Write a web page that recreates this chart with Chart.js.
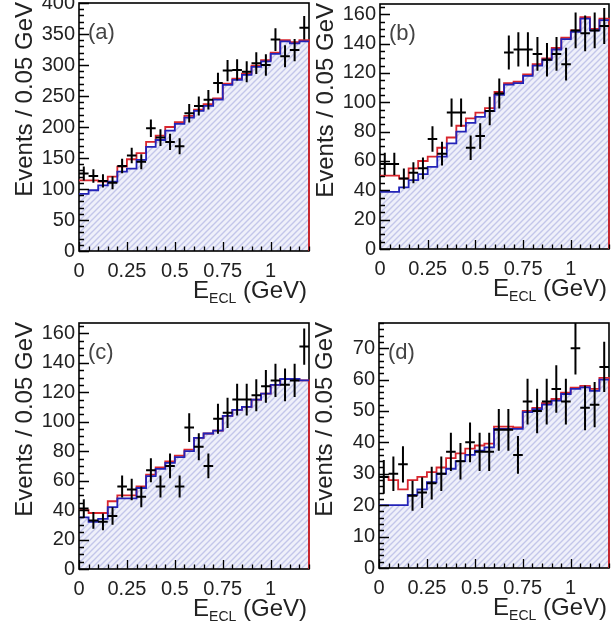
<!DOCTYPE html>
<html>
<head>
<meta charset="utf-8">
<script src="https://cdn.jsdelivr.net/npm/chart.js@4.4.1/dist/chart.umd.min.js"></script>
<style>
html, body { margin: 0; padding: 0; background: #fff; }
body { width: 611px; height: 631px; position: relative; overflow: hidden; }
canvas { position: absolute; }
</style>
</head>
<body>
<canvas id="pa" width="311" height="310" style="left:0;top:0"></canvas>
<canvas id="pb" width="306" height="310" style="left:305px;top:0"></canvas>
<canvas id="pc" width="311" height="319" style="left:0;top:312px"></canvas>
<canvas id="pd" width="306" height="319" style="left:305px;top:312px"></canvas>
<script>
// bins of 0.05 GeV, lower edges
const binEdges = [0, 0.05, 0.1, 0.15, 0.2, 0.25, 0.3, 0.35, 0.4, 0.45, 0.5, 0.55,
	0.6, 0.65, 0.7, 0.75, 0.8, 0.85, 0.9, 0.95, 1, 1.05, 1.1, 1.15];
const binWidth = 0.05;
const xMax = 1.2;

const xTickValues = [0, 0.25, 0.5, 0.75, 1];
const xTickLabels = ["0", "0.25", "0.5", "0.75", "1"];

// (a)
const dataA = [125, 121, 113, 110, 137, 154, 144, 198, 183, 176, 169, 222, 234, 244, 271, 291, 292, 289, 303, 300, 341, 314, 324, 360];
const bkgA = [92, 98, 106, 112, 128, 133, 147, 168, 179, 194, 205, 215, 226, 234, 244, 268, 276, 284, 297, 306, 318, 338, 335, 338];
const totA = [114, 114, 112, 120, 136, 148, 158, 176, 186, 200, 208, 218, 228, 237, 246, 270, 278, 286, 299, 308, 320, 340, 337, 340];
const yTicksA = [0, 50, 100, 150, 200, 250, 300, 350, 400];

// (b)
const dataB = [58, 58, 48, 52, 55, 75, 65, 93, 93, 69, 77, 94, 106, 134, 136, 136, 133, 129, 133, 126, 149, 147, 149, 152];
const bkgB = [39, 39, 42, 47, 51, 56, 63, 72, 80, 86, 90, 94, 105, 112, 113, 118, 125, 129, 136, 143, 148, 157, 149, 156];
const totB = [50, 50, 48, 55, 60, 63, 69, 76, 84, 89, 93, 96, 107, 113, 114, 119, 126, 130, 137, 144, 149, 158, 150, 157];
const yTicksB = [0, 20, 40, 60, 80, 100, 120, 140, 160];

// (c)
const dataC = [41, 33, 32, 36, 56, 54, 49, 67, 56, 70, 56, 96, 83, 70, 102, 106, 115, 115, 118, 124, 128, 125, 128, 151];
const bkgC = [35, 32, 34, 42, 48, 48, 55, 63, 68, 72, 76, 80, 89, 92, 94, 104, 108, 110, 115, 119, 125, 129, 129, 128];
const totC = [40, 38, 38, 46, 50, 50, 56, 64, 69, 73, 77, 81, 89, 92, 94, 104, 108, 110, 115, 119, 125, 129, 129, 128];
const yTicksC = [0, 20, 40, 60, 80, 100, 120, 140, 160];

// (d)
const dataD = [29, 30, 33, 23, 24, 27, 30, 37, 34, 40, 37, 37, 44, 44, 36, 53, 50, 53, 57, 53, 70, 51, 52, 64];
const bkgD = [20, 20, 20, 23.3, 25, 27.3, 30, 31.6, 34, 36, 37.4, 38.4, 44.3, 44.3, 44.3, 49.6, 50.6, 52, 53.3, 55.4, 57, 57.5, 56.4, 60];
const totD = [29, 28, 25, 28, 29, 30.5, 32, 35, 36.5, 38, 39, 39.6, 45, 45, 44.8, 50, 51, 52.5, 53.8, 55.8, 57.4, 58, 57, 60.5];
const yTicksD = [0, 10, 20, 30, 40, 50, 60, 70];

const yTitle = "Events / 0.05 GeV";

const FONT = '"Liberation Sans", Arial, Helvetica, sans-serif';
Chart.defaults.font.family = FONT;

const panels = [
	{ id: "pa", letter: "(a)", data: dataA, bkg: bkgA, tot: totA, yTicks: yTicksA, ymax: 400, yMinor: 10,
		pad: { left: 0, top: 3, right: 2, bottom: 0 }, yw: 79, xh: 59 },
	{ id: "pb", letter: "(b)", data: dataB, bkg: bkgB, tot: totB, yTicks: yTicksB, ymax: 167, yMinor: 5,
		pad: { left: 0, top: 4, right: 2, bottom: 0 }, yw: 75, xh: 61 },
	{ id: "pc", letter: "(c)", data: dataC, bkg: bkgC, tot: totC, yTicks: yTicksC, ymax: 167, yMinor: 5,
		pad: { left: 0, top: 11, right: 2, bottom: 0 }, yw: 79, xh: 62 },
	{ id: "pd", letter: "(d)", data: dataD, bkg: bkgD, tot: totD, yTicks: yTicksD, ymax: 78, yMinor: 2,
		pad: { left: 0, top: 11, right: 2, bottom: 0 }, yw: 74, xh: 63 },
];

function makeHatch(ctx) {
	const c = document.createElement("canvas");
	c.width = 6;
	c.height = 6;
	const g = c.getContext("2d");
	g.fillStyle = "#eff0fa";
	g.fillRect(0, 0, 6, 6);
	g.strokeStyle = "#c3c6ea";
	g.lineWidth = 1.4;
	g.beginPath();
	g.moveTo(-1, 7); g.lineTo(7, -1);
	g.moveTo(5, 7); g.lineTo(7, 5);
	g.moveTo(-1, 1); g.lineTo(1, -1);
	g.stroke();
	return ctx.createPattern(c, "repeat");
}

// frame, inward ticks, axis titles and panel letter
const decorations = {
	id: "decorations",
	beforeDatasetsDraw(chart) {
		const { ctx, chartArea: a } = chart;
		ctx.save();
		ctx.strokeStyle = "#000";
		ctx.lineWidth = 1.6;
		ctx.strokeRect(a.left, a.top, a.right - a.left, a.bottom - a.top);
		ctx.restore();
	},
	afterDatasetsDraw(chart) {
		const { ctx, chartArea: a, scales } = chart;
		const p = chart.config.options.panel;
		const x = scales.x, y = scales.y;
		ctx.save();
		ctx.strokeStyle = "#000";
		ctx.lineWidth = 1.3;
		ctx.beginPath();
		for (let i = 0; i <= Math.round(xMax / binWidth); i++) {
			const v = i * binWidth;
			const px = Math.round(x.getPixelForValue(v)) + 0.5;
			const major = xTickValues.some(t => Math.abs(t - v) < 1e-6);
			ctx.moveTo(px, a.bottom);
			ctx.lineTo(px, a.bottom - (major ? 9 : 4.5));
		}
		for (let i = 0; i * p.yMinor <= p.ymax; i++) {
			const v = i * p.yMinor;
			const py = Math.round(y.getPixelForValue(v)) + 0.5;
			const major = p.yTicks.indexOf(v) >= 0;
			ctx.moveTo(a.left, py);
			ctx.lineTo(a.left + (major ? 10 : 5), py);
		}
		ctx.stroke();
		ctx.restore();
	},
	afterDraw(chart) {
		const { ctx, chartArea: a } = chart;
		const p = chart.config.options.panel;
		ctx.save();
		ctx.fillStyle = "#222";
		// y title, right-aligned at top of the axis
		ctx.save();
		ctx.translate(a.left - 47, a.top - 1);
		ctx.rotate(-Math.PI / 2);
		ctx.font = "24px " + FONT;
		ctx.textAlign = "right";
		ctx.textBaseline = "alphabetic";
		ctx.fillText(yTitle, 0, 0);
		ctx.restore();
		// x title E_ECL (GeV)
		const main = "24px " + FONT, sub = "14px " + FONT;
		ctx.textBaseline = "alphabetic";
		ctx.textAlign = "left";
		ctx.font = main;
		const wE = ctx.measureText("E").width;
		const wRest = ctx.measureText(" (GeV)").width;
		ctx.font = sub;
		const wSub = ctx.measureText("ECL").width;
		const base = a.bottom + 47;
		let x0 = a.right - 2 - (wE + wSub + wRest);
		ctx.font = main;
		ctx.fillText("E", x0, base);
		ctx.font = sub;
		ctx.fillText("ECL", x0 + wE, base + 5);
		ctx.font = main;
		ctx.fillText(" (GeV)", x0 + wE + wSub, base);
		// panel letter
		ctx.fillStyle = "#444";
		ctx.font = "22px " + FONT;
		ctx.fillText(p.letter, a.left + 9, a.top + 36);
		ctx.restore();
	},
};

function buildChart(p) {
	const canvas = document.getElementById(p.id);
	const ctx = canvas.getContext("2d");
	const hatch = makeHatch(ctx);

	const bkgPts = binEdges.map((e, i) => ({ x: e, y: p.bkg[i] }));
	bkgPts.push({ x: xMax, y: p.bkg[p.bkg.length - 1] });
	const totPts = binEdges.map((e, i) => ({ x: e, y: p.tot[i] }));
	totPts.push({ x: xMax, y: 0 });

	// data crosses: poisson error vertically, bin width horizontally
	const crossPts = [];
	p.data.forEach((v, i) => {
		const c = binEdges[i] + binWidth / 2;
		const err = Math.sqrt(v);
		crossPts.push({ x: c, y: v - err }, { x: c, y: v + err }, { x: c, y: null });
		crossPts.push({ x: binEdges[i], y: v }, { x: binEdges[i] + binWidth, y: v }, { x: c, y: null });
	});

	const tickFont = { size: 20, family: FONT };

	return new Chart(ctx, {
		type: "line",
		data: {
			datasets: [
				{
					data: crossPts,
					borderColor: "#000",
					borderWidth: 2,
					pointRadius: 0,
					fill: false,
					spanGaps: false,
				},
				{
					data: bkgPts,
					borderColor: "#2323b8",
					borderWidth: 1.8,
					stepped: true,
					pointRadius: 0,
					fill: "origin",
					backgroundColor: hatch,
				},
				{
					data: totPts,
					borderColor: "#d8262e",
					borderWidth: 1.8,
					stepped: true,
					pointRadius: 0,
					fill: false,
					clip: 4,
				},
			],
		},
		plugins: [decorations],
		options: {
			panel: p,
			responsive: false,
			animation: false,
			events: [],
			layout: { padding: p.pad },
			plugins: {
				legend: { display: false },
				tooltip: { enabled: false },
				filler: { drawTime: "beforeDatasetsDraw" },
			},
			scales: {
				x: {
					type: "linear",
					min: 0,
					max: xMax,
					grid: { display: false, drawTicks: false },
					border: { display: false },
					afterBuildTicks: s => { s.ticks = xTickValues.map(v => ({ value: v })); },
					afterFit: s => { s.height = p.xh; s.paddingLeft = 0; s.paddingRight = 0; },
					ticks: {
						autoSkip: false,
						maxRotation: 0,
						padding: 8,
						color: "#222",
						font: tickFont,
						callback: (v, i) => xTickLabels[i],
					},
				},
				y: {
					type: "linear",
					min: 0,
					max: p.ymax,
					grid: { display: false, drawTicks: false },
					border: { display: false },
					afterBuildTicks: s => { s.ticks = p.yTicks.map(v => ({ value: v })); },
					afterFit: s => { s.width = p.yw; s.paddingTop = 0; s.paddingBottom = 0; },
					ticks: {
						padding: 4,
						color: "#222",
						font: tickFont,
						callback: v => String(v),
					},
				},
			},
		},
	});
}

panels.forEach(buildChart);
</script>
</body>
</html>
